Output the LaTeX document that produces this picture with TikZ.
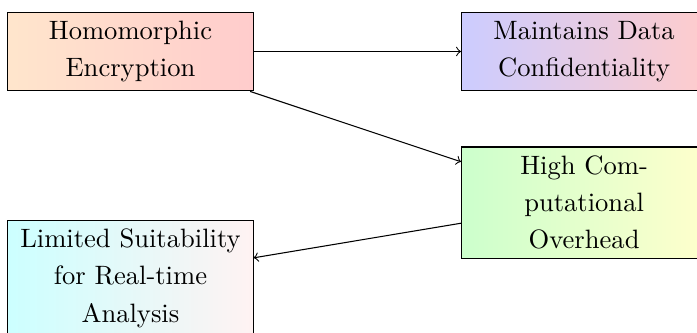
\documentclass[tikz,border=0pt]{standalone}
\tikzset{
  block/.style={draw, rectangle, align=center, minimum width=3.245cm,
    font=\fontsize{10}{14}\selectfont},
  link/.style={->}
}
\begin{document}
\begin{tikzpicture}
  \useasboundingbox (-1.726,-3.723) rectangle (7.493,0.681);
  \node[block, left color=orange!20, right color=red!20] (he)
    at (0,0) {Homomorphic\\Encryption};
  \node[block, left color=blue!20, right color=red!20] (conf)
    at (6,0) {Maintains Data\\Confidentiality};
  \node[block, left color=green!20, right color=yellow!20] (over)
    at (6,-2) {High Com-\\putational\\Overhead};
  \node[block, left color=cyan!20, right color=red!5] (limit)
    at (0,-3) {Limited Suitability\\for Real-time\\Analysis};
  \draw[link] (he) -- (conf);
  \draw[link] (he) -- (over);
  \draw[link] (over) -- (limit);
\end{tikzpicture}
\end{document}
